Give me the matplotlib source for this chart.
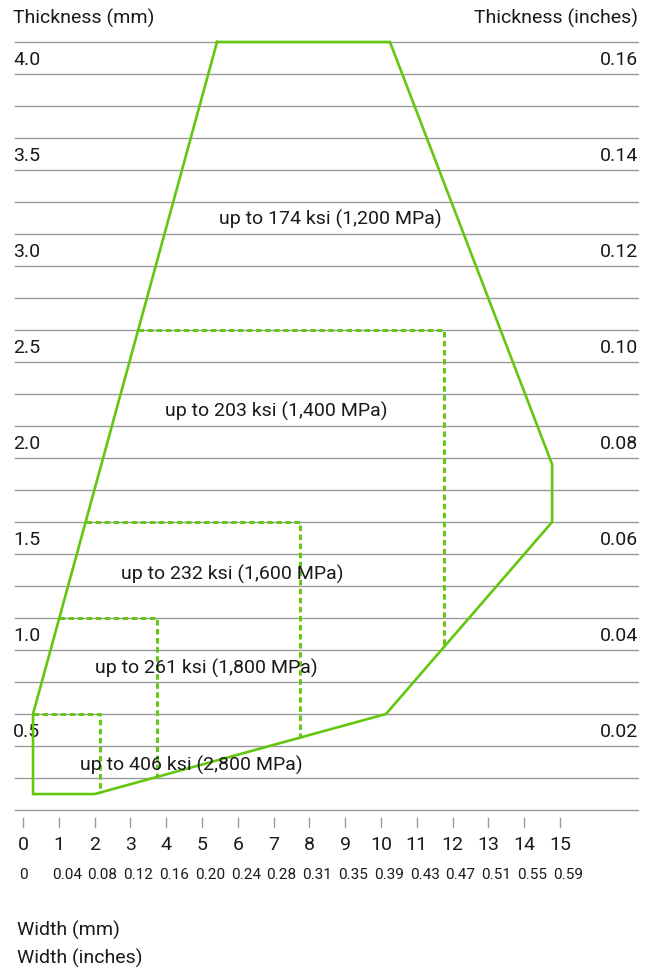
import numpy as np
from matplotlib import pyplot as plt

plt.rcParams['font.family'] = ['Roboto', 'DejaVu Sans']

# outline of the 174 ksi region (width mm, thickness mm)
outline_w = [5.42, 10.25, 14.78, 14.78, 10.14, 2.0, 0.28, 0.28, 5.42]
outline_t = [4.0, 4.0, 1.80, 1.5, 0.5, 0.083, 0.083, 0.5, 4.0]

# dashed sub regions: top thickness and right width
rect_top = [0.5, 1.0, 1.5, 2.5]
rect_right = [2.15, 3.74, 7.74, 11.76]

labels = ['up to 174 ksi (1,200 MPa)', 'up to 203 ksi (1,400 MPa)',
          'up to 232 ksi (1,600 MPa)', 'up to 261 ksi (1,800 MPa)',
          'up to 406 ksi (2,800 MPa)']
label_w = [8.58, 7.07, 5.84, 5.11, 4.69]
label_t = [3.08, 2.08, 1.23, 0.745, 0.24]

mm_ticks = [4.0, 3.5, 3.0, 2.5, 2.0, 1.5, 1.0, 0.5]
inch_ticks = ['0.16', '0.14', '0.12', '0.10', '0.08', '0.06', '0.04', '0.02']

width_mm = np.arange(0, 16)
width_in = ['0', '0.04', '0.08', '0.12', '0.16', '0.20', '0.24', '0.28',
            '0.31', '0.35', '0.39', '0.43', '0.47', '0.51', '0.55', '0.59']

green = '#63c710'
grey = '#9a9a9a'
txt = '#1a1a1a'
fs = 14

fig = plt.figure(figsize=(6.52, 9.70), dpi=100)
ax = fig.add_axes([0, 0, 1, 1])
pxx = 35.8   # px per mm, horizontal
pxy = 192.0  # px per mm, vertical
ax.set_xlim(-23 / pxx, (652 - 23) / pxx)
ax.set_ylim(4.0 - (970 - 43) / pxy, 4.0 + 43 / pxy)
ax.axis('off')

# horizontal rules
x0, x1 = (15 - 23) / pxx, (638 - 23) / pxx
for y in np.linspace(0, 4.0, 25):
    ax.plot([x0, x1], [y, y], color=grey, lw=1.0, zorder=1)

# left / right scale labels
for v, s in zip(mm_ticks, inch_ticks):
    ax.text(x0 - 2 / pxx, v - 17 / pxy, '%.1f' % v, ha='left', va='center',
            fontsize=fs, color=txt)
    ax.text(x1, v - 17 / pxy, s, ha='right', va='center', fontsize=fs, color=txt)
ax.text(x0 - 2 / pxx, 4.0 + 25 / pxy, 'Thickness (mm)', ha='left', va='center',
        fontsize=fs, color=txt)
ax.text(x1, 4.0 + 25 / pxy, 'Thickness (inches)', ha='right', va='center',
        fontsize=fs, color=txt)

# main outline
ax.plot(outline_w, outline_t, color=green, lw=1.9, solid_joinstyle='miter', zorder=3)

# dashed regions, bounded by the outline
left_t, left_w = [0.5, 4.0], [0.28, 5.42]
low_w, low_t = outline_w[2:7][::-1], outline_t[2:7][::-1]
for top, right in zip(rect_top, rect_right):
    xl = np.interp(top, left_t, left_w)
    yb = np.interp(right, low_w, low_t)
    ax.plot([xl, right, right], [top, top, yb], color=green, lw=2.1,
            ls=(0, (1.9, 1.2)), zorder=3)

for s, x, y in zip(labels, label_w, label_t):
    ax.text(x, y, s, ha='center', va='center', fontsize=fs, color=txt, zorder=4)

# width axis
for w, s in zip(width_mm, width_in):
    ax.plot([w, w], [-(819 - 811) / pxy, -(828 - 811) / pxy], color=grey, lw=1.0)
    ax.text(w, -(845 - 811) / pxy, str(w), ha='center', va='center',
            fontsize=fs, color=txt)
    off = 0 if w == 0 else 8 / pxx
    ax.text(w + off, -(875 - 811) / pxy, s, ha='center', va='center',
            fontsize=11, color=txt)

ax.text(-6 / pxx, -(930 - 811) / pxy, 'Width (mm)', ha='left', va='center',
        fontsize=fs, color=txt)
ax.text(-6 / pxx, -(958 - 811) / pxy, 'Width (inches)', ha='left', va='center',
        fontsize=fs, color=txt)

plt.savefig('out.png', dpi=100)
